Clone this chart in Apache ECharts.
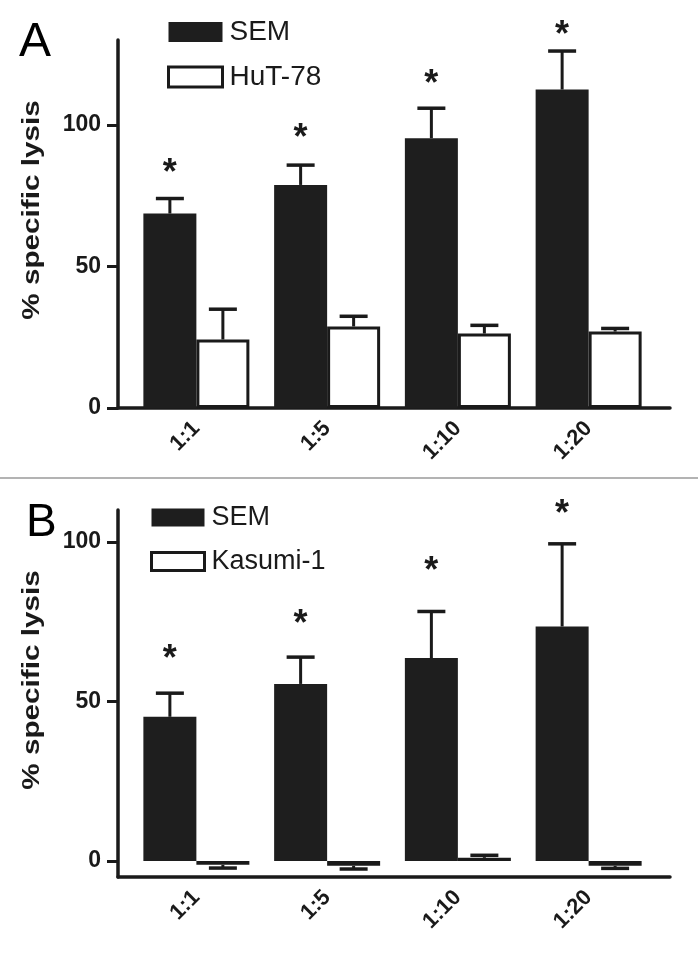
<!DOCTYPE html>
<html>
<head>
<meta charset="utf-8">
<script src="https://cdn.jsdelivr.net/npm/echarts@6/dist/echarts.min.js"></script>
<style>html,body{margin:0;padding:0;background:#fff;}#chart{width:698px;height:960px;}</style>
</head>
<body>
<div id="chart"></div>
<script>
// ---- data ----
const categories = ['1:1', '1:5', '1:10', '1:20'];
const yTicks = [0, 50, 100];

// Panel A
const semA     = [68.7, 78.8, 95.3, 112.5];
const semAErr  = [5.3, 7.0, 10.6, 13.6];
const hutA     = [24.2, 28.8, 26.3, 27.0];
const hutAErr  = [10.7, 3.6, 2.9, 1.1];
const starA    = [85.1, 97.5, 116.7, 134.0];

// Panel B
const semB     = [45.2, 55.5, 63.6, 73.5];
const semBErr  = [7.4, 8.4, 14.6, 25.9];
const kasB     = [-1.2, -1.5, 1.0, -1.5];
const kasBErr  = [1.0, 1.0, 0.8, 0.8];
const starB    = [65.3, 76.0, 92.8, 110.6];

const yRangeA = [0, 130];
const yRangeB = [-5, 110];

// ---- styling ----
const INK = '#1a1a1a';
const BAR_DARK = '#1e1e1e';
const FONT = '"Liberation Sans", Arial, Helvetica, sans-serif';
const BAR_W = 53;
const STAR_DY = 7;

function errData(vals, errs, stars) {
  return vals.map((v, i) => [i, v, errs[i], stars ? stars[i] : NaN]);
}
function errRender(side) {
  return function (params, api) {
    const i = api.value(0), v = api.value(1), e = api.value(2), st = api.value(3);
    const dir = v >= 0 ? 1 : -1;
    const p0 = api.coord([i, v]);
    const p1 = api.coord([i, v + dir * e]);
    const x = p0[0] + side * BAR_W / 2;
    const children = [
      { type: 'line', shape: { x1: x, y1: p0[1], x2: x, y2: p1[1] }, style: { stroke: INK, lineWidth: 3 } },
      { type: 'line', shape: { x1: x - 14, y1: p1[1], x2: x + 14, y2: p1[1] }, style: { stroke: INK, lineWidth: 3.5 } }
    ];
    if (st != null && !isNaN(st)) {
      const ps = api.coord([i, st]);
      children.push({ type: 'text', x: x, y: ps[1] + STAR_DY,
        style: { text: '*', font: 'bold 36px ' + FONT, fill: INK, align: 'center', verticalAlign: 'middle' } });
    }
    return { type: 'group', children: children };
  };
}

function frameX(gi) {
  return { gridIndex: gi, type: 'value', min: 0, max: 1,
    axisLine: { show: true, onZero: false, lineStyle: { color: INK, width: 3.5 } },
    axisTick: { show: false }, axisLabel: { show: false }, splitLine: { show: false } };
}
function dataX(gi) {
  return { gridIndex: gi, type: 'category', data: categories,
    axisLine: { show: false }, axisTick: { show: false },
    axisLabel: { rotate: 45, margin: 17, color: INK, fontWeight: 'bold', fontSize: 22, fontFamily: FONT } };
}
function frameY(gi, range) {
  return { gridIndex: gi, type: 'value', min: range[0], max: range[1],
    axisLine: { show: true, onZero: false, lineStyle: { color: INK, width: 3.5 } },
    axisTick: { show: true, length: 11, lineStyle: { color: INK, width: 3 }, customValues: yTicks },
    axisLabel: { customValues: yTicks, margin: 17, color: INK, fontWeight: 'bold', fontSize: 23, fontFamily: FONT },
    splitLine: { show: false } };
}
function dataY(gi, range) {
  return { gridIndex: gi, type: 'value', min: range[0], max: range[1], show: false, splitLine: { show: false } };
}

const whiteStyle = { color: '#ffffff', borderColor: INK, borderWidth: 3 };
const darkStyle = { color: BAR_DARK };

const chart = echarts.init(document.getElementById('chart'), null, { renderer: 'canvas' });
chart.setOption({
  animation: false,
  backgroundColor: '#ffffff',
  title: [
    { text: 'A', left: 14, top: 14, textStyle: { fontSize: 48, fontWeight: 'normal', color: '#000', fontFamily: FONT } },
    { text: 'B', left: 21, top: 495, textStyle: { fontSize: 46, fontWeight: 'normal', color: '#000', fontFamily: FONT } }
  ],
  legend: [
    { orient: 'vertical', left: 162, top: 13, itemWidth: 54, itemHeight: 20, itemGap: 17, icon: 'rect',
      textStyle: { fontSize: 28, lineHeight: 20, color: INK, fontFamily: FONT, padding: [0, 0, 0, 2] },
      data: [ { name: 'SEM', itemStyle: darkStyle },
              { name: 'HuT-78', itemStyle: whiteStyle } ] },
    { orient: 'vertical', left: 145, top: 499, itemWidth: 53, itemHeight: 18, itemGap: 17, icon: 'rect',
      textStyle: { fontSize: 27, lineHeight: 18, color: INK, fontFamily: FONT, padding: [0, 0, 0, 2] },
      data: [ { name: 'SEM', itemStyle: darkStyle },
              { name: 'Kasumi-1', itemStyle: whiteStyle } ] }
  ],
  grid: [
    { left: 118, top: 40, width: 552, height: 368 },
    { left: 131, top: 40, width: 523, height: 368 },
    { left: 118, top: 510, width: 552, height: 367 },
    { left: 131, top: 510, width: 523, height: 367 }
  ],
  xAxis: [ frameX(0), dataX(1), frameX(2), dataX(3) ],
  yAxis: [ frameY(0, yRangeA), dataY(1, yRangeA), frameY(2, yRangeB), dataY(3, yRangeB) ],
  graphic: [
    { type: 'line', shape: { x1: 0, y1: 478, x2: 698, y2: 478 }, style: { stroke: '#9a9a9a', lineWidth: 1.5 } },
    { type: 'text', x: 33, y: 210, rotation: Math.PI / 2, scaleX: 1.29,
      style: { text: '% specific lysis', font: 'bold 23px ' + FONT, fill: INK, align: 'center', verticalAlign: 'middle' } },
    { type: 'text', x: 33, y: 680, rotation: Math.PI / 2, scaleX: 1.29,
      style: { text: '% specific lysis', font: 'bold 23px ' + FONT, fill: INK, align: 'center', verticalAlign: 'middle' } }
  ],
  series: [
    { name: 'SEM', type: 'bar', xAxisIndex: 1, yAxisIndex: 1, data: semA, barWidth: BAR_W, barGap: '0%', itemStyle: darkStyle },
    { name: 'HuT-78', type: 'bar', xAxisIndex: 1, yAxisIndex: 1, data: hutA, barWidth: BAR_W, barGap: '0%', itemStyle: whiteStyle },
    { name: 'SEM error A', type: 'custom', xAxisIndex: 1, yAxisIndex: 1, data: errData(semA, semAErr, starA), renderItem: errRender(-1), z: 5 },
    { name: 'HuT-78 error', type: 'custom', xAxisIndex: 1, yAxisIndex: 1, data: errData(hutA, hutAErr, null), renderItem: errRender(1), z: 5 },

    { name: 'SEM', type: 'bar', xAxisIndex: 3, yAxisIndex: 3, data: semB, barWidth: BAR_W, barGap: '0%', itemStyle: darkStyle },
    { name: 'Kasumi-1', type: 'bar', xAxisIndex: 3, yAxisIndex: 3, data: kasB, barWidth: BAR_W, barGap: '0%', itemStyle: whiteStyle },
    { name: 'SEM error B', type: 'custom', xAxisIndex: 3, yAxisIndex: 3, data: errData(semB, semBErr, starB), renderItem: errRender(-1), z: 5 },
    { name: 'Kasumi-1 error', type: 'custom', xAxisIndex: 3, yAxisIndex: 3, data: errData(kasB, kasBErr, null), renderItem: errRender(1), z: 5 }
  ]
});
</script>
</body>
</html>
